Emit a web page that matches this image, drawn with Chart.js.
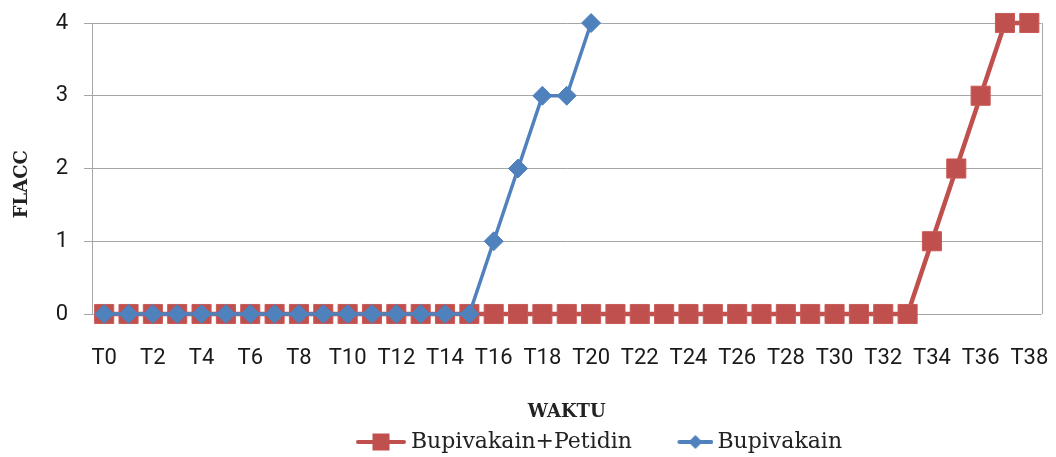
<!DOCTYPE html>
<html>
<head>
<meta charset="utf-8">
<script src="https://cdn.jsdelivr.net/npm/chart.js@4"></script>
<style>
  html, body { margin: 0; padding: 0; background: #fff; }
  #wrap { width: 1056px; height: 457px; position: relative; }
</style>
</head>
<body>
<div id="wrap"><canvas id="flacc-chart"></canvas></div>
<script>
const categories = [
  "T0", "T1", "T2", "T3", "T4", "T5", "T6", "T7", "T8", "T9",
  "T10", "T11", "T12", "T13", "T14", "T15", "T16", "T17", "T18", "T19",
  "T20", "T21", "T22", "T23", "T24", "T25", "T26", "T27", "T28", "T29",
  "T30", "T31", "T32", "T33", "T34", "T35", "T36", "T37", "T38",
];

const bupiPetidin = [
  0, 0, 0, 0, 0, 0, 0, 0, 0, 0,
  0, 0, 0, 0, 0, 0, 0, 0, 0, 0,
  0, 0, 0, 0, 0, 0, 0, 0, 0, 0,
  0, 0, 0, 0, 1, 2, 3, 4, 4,
];

const bupivakain = [
  0, 0, 0, 0, 0, 0, 0, 0, 0, 0,
  0, 0, 0, 0, 0, 0, 1, 2, 3, 3,
  4, null, null, null, null, null, null, null, null, null,
  null, null, null, null, null, null, null, null, null,
];

const yTicks = [0, 1, 2, 3, 4];

const RED = "#C0504D";
const BLUE = "#4F81BD";
const GRID = "#A6A6A6";

// line + marker picture for the legend; the visible part sits at the right end
function legendSwatch(color, width, visible, lineWidth, marker, markerSize) {
  const c = document.createElement("canvas");
  c.width = width;
  c.height = 20;
  const g = c.getContext("2d");
  const x0 = width - visible;
  g.strokeStyle = color;
  g.lineWidth = lineWidth;
  g.lineCap = "round";
  g.beginPath();
  g.moveTo(x0 + 2, 10);
  g.lineTo(width - 2, 10);
  g.stroke();
  g.fillStyle = color;
  const cx = x0 + visible / 2;
  if (marker === "square") {
    g.fillRect(cx - markerSize / 2, 10 - markerSize / 2, markerSize, markerSize);
  } else {
    g.beginPath();
    g.moveTo(cx, 10 - markerSize / 2);
    g.lineTo(cx + markerSize / 2, 10);
    g.lineTo(cx, 10 + markerSize / 2);
    g.lineTo(cx - markerSize / 2, 10);
    g.closePath();
    g.fill();
  }
  return c;
}

const swatches = [
  legendSwatch(RED, 50, 50, 4, "square", 17),
  legendSwatch(BLUE, 52, 36, 4, "diamond", 14),
];

const rightBorder = {
  id: "rightBorder",
  afterDraw(chart) {
    const { ctx, chartArea: { top, bottom, right } } = chart;
    ctx.save();
    ctx.strokeStyle = GRID;
    ctx.lineWidth = 1;
    ctx.beginPath();
    ctx.moveTo(Math.round(right) + 0.5, top);
    ctx.lineTo(Math.round(right) + 0.5, bottom);
    ctx.stroke();
    ctx.restore();
  },
};

// the legend in the original sits a bit right of centre
const legendShift = {
  id: "legendShift",
  afterLayout(chart) {
    if (chart.legend) {
      chart.legend.left += 77;
      chart.legend.right += 77;
    }
  },
};

const ctx = document.getElementById("flacc-chart").getContext("2d");

new Chart(ctx, {
  type: "line",
  plugins: [rightBorder, legendShift],
  data: {
    labels: categories,
    datasets: [
      {
        label: "Bupivakain+Petidin",
        data: bupiPetidin,
        borderColor: RED,
        backgroundColor: RED,
        borderWidth: 4.5,
        pointStyle: "rect",
        pointRadius: 13.5,
        pointBorderWidth: 1,
        pointBorderColor: "#c95a57",
        tension: 0,
        clip: false,
        order: 2,
      },
      {
        label: "Bupivakain",
        data: bupivakain,
        borderColor: BLUE,
        backgroundColor: BLUE,
        borderWidth: 3.5,
        pointStyle: "rectRot",
        pointRadius: 9.5,
        pointBorderWidth: 1,
        tension: 0,
        spanGaps: false,
        clip: false,
        order: 1,
      },
    ],
  },
  options: {
    responsive: true,
    maintainAspectRatio: false,
    animation: false,
    layout: {
      padding: { top: 23, right: 6, left: 0, bottom: -6 },
    },
    plugins: {
      tooltip: { enabled: false },
      legend: {
        position: "bottom",
        labels: {
          usePointStyle: true,
          pointStyleWidth: 38,
          padding: 4,
          color: "#222",
          font: { family: "'DejaVu Serif'", size: 22 },
          sort: (a, b) => a.datasetIndex - b.datasetIndex,
          generateLabels: (chart) =>
            chart.data.datasets.map((ds, i) => ({
              // trailing spaces only widen the gap before the next entry
              text: i === 0 ? ds.label + "    \u2009" : ds.label,
              datasetIndex: i,
              pointStyle: swatches[i],
              fillStyle: ds.backgroundColor,
              strokeStyle: ds.borderColor,
              lineWidth: 0,
              hidden: false,
              fontColor: "#222",
            })),
        },
      },
    },
    scales: {
      x: {
        offset: true,
        afterFit: (scale) => {
          scale.height = 113;
          scale.paddingLeft = 0;
          scale.paddingRight = 0;
        },
        grid: { display: false, drawTicks: false },
        border: { display: false },
        ticks: {
          autoSkip: false,
          maxRotation: 0,
          padding: 31,
          color: "#1a1a1a",
          font: { family: "Roboto", size: 22 },
          callback: function (value, index) {
            return index % 2 === 0 ? categories[index] : "";
          },
        },
        title: {
          display: true,
          text: "WAKTU",
          color: "#222",
          font: { family: "'DejaVu Serif'", size: 18, weight: "bold" },
          padding: { top: 0, bottom: 4 },
        },
      },
      y: {
        min: 0,
        max: 4,
        afterFit: (scale) => {
          scale.width = 92;
          scale.paddingTop = 0;
          scale.paddingBottom = 0;
        },
        afterBuildTicks: (scale) => {
          scale.ticks = yTicks.map((v) => ({ value: v }));
        },
        grid: {
          color: GRID,
          lineWidth: 1,
          tickLength: 8,
          drawTicks: true,
        },
        border: { display: true, color: GRID },
        ticks: {
          padding: 16,
          color: "#1a1a1a",
          font: { family: "Roboto", size: 22 },
        },
        title: {
          display: true,
          text: "FLACC     ",
          color: "#222",
          font: { family: "'DejaVu Serif'", size: 18, weight: "bold" },
          padding: { top: 12, bottom: 0 },
        },
      },
    },
  },
});
</script>
</body>
</html>
